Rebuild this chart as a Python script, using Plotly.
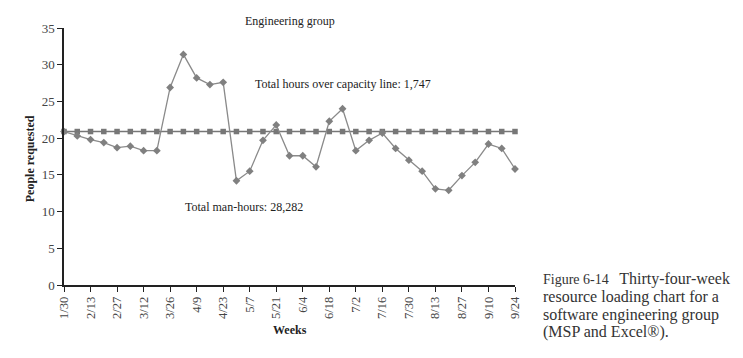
import plotly.graph_objects as go

weeks = ["1/30", "2/6", "2/13", "2/20", "2/27", "3/5", "3/12", "3/19", "3/26", "4/2",
         "4/9", "4/16", "4/23", "4/30", "5/7", "5/14", "5/21", "5/28", "6/4", "6/11",
         "6/18", "6/25", "7/2", "7/9", "7/16", "7/23", "7/30", "8/6", "8/13", "8/20",
         "8/27", "9/3", "9/10", "9/17", "9/24"]
people_requested = [20.9, 20.3, 19.8, 19.4, 18.7, 18.9, 18.3, 18.3, 26.9, 31.4,
                    28.2, 27.3, 27.6, 14.2, 15.5, 19.7, 21.8, 17.6, 17.6, 16.1,
                    22.3, 24.0, 18.3, 19.7, 20.7, 18.6, 17.0, 15.5, 13.1, 12.9,
                    14.9, 16.7, 19.2, 18.6, 15.8]
capacity = [20.9] * len(weeks)
tick_labels = weeks[::2]

SERIF = "Liberation Serif, Times New Roman, serif"
GRAY = "#777777"

fig = go.Figure()
fig.add_trace(go.Scatter(
    x=weeks, y=capacity, mode="lines+markers",
    line=dict(color=GRAY, width=1.4),
    marker=dict(symbol="square", size=5.5, color=GRAY),
    cliponaxis=False, showlegend=False))
fig.add_trace(go.Scatter(
    x=weeks, y=people_requested, mode="lines+markers",
    line=dict(color="#8a8a8a", width=1.3),
    marker=dict(symbol="diamond", size=6, color="#808080"),
    cliponaxis=False, showlegend=False))

# the page body has a default 8px margin; compensate so the plot lands in place
fig.update_layout(
    width=735, height=350,
    margin=dict(l=56, r=228, t=20, b=73),
    paper_bgcolor="white", plot_bgcolor="white",
    font=dict(family=SERIF, size=12, color="#333"),
    xaxis=dict(type="category", range=[0, len(weeks) - 1],
               tickmode="array", tickvals=tick_labels, ticktext=tick_labels,
               tickangle=-90, ticks="outside", ticklen=5, tickcolor="#222",
               showline=True, linecolor="#222", linewidth=1.5,
               showgrid=False, zeroline=False, automargin=False,
               tickfont=dict(family=SERIF, size=12.5, color="#444")),
    yaxis=dict(range=[0, 35], tickvals=[0, 5, 10, 15, 20, 25, 30, 35],
               ticks="outside", ticklen=5, tickcolor="#222",
               showline=True, linecolor="#222", linewidth=1.5,
               showgrid=False, zeroline=False, automargin=False,
               tickfont=dict(family=SERIF, size=13, color="#444")),
)

def ann(text, x, y, size=12, bold=False, angle=0, xanchor="center", color="#222"):
    fig.add_annotation(text=f"<b>{text}</b>" if bold else text,
                       xref="paper", yref="paper", x=x, y=y,
                       xanchor=xanchor, yanchor="middle", showarrow=False,
                       textangle=angle, font=dict(family=SERIF, size=size, color=color))

ann("Engineering group", 0.501, 1.028)
ann("Total hours over capacity line: 1,747", 0.619, 0.782)
ann("Total man-hours: 28,282", 0.400, 0.305)
ann("Weeks", 0.501, -0.175, size=12, bold=True)
ann("People requested", -0.075, 0.49, size=12, bold=True, angle=-90)

cx = (541 - 64) / 451
caption = ["Figure 6-14 &nbsp; <span style='font-size:16px'>Thirty-four-week</span>",
           "resource loading chart for a",
           "software engineering group",
           "(MSP and Excel®)."]
for i, (line, py) in enumerate(zip(caption, [279, 297, 314.5, 332])):
    ann(line, cx, (285 - py) / 257, size=14 if i == 0 else 16, xanchor="left", color="#333")

fig.write_html("out.html")
